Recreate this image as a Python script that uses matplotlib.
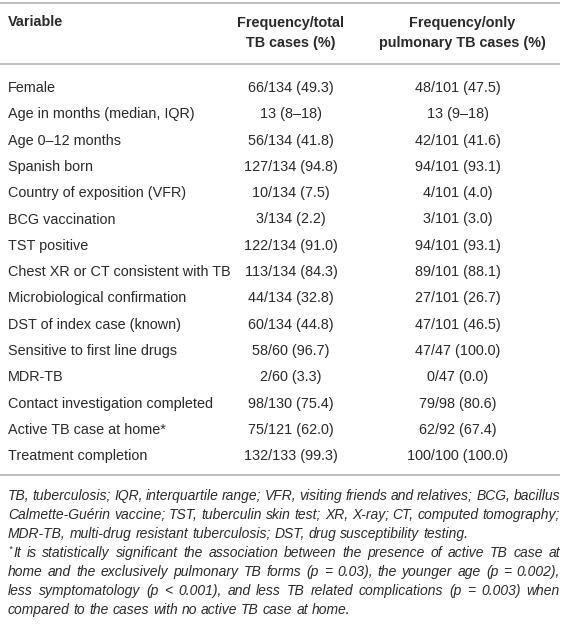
import matplotlib
matplotlib.use("Agg")
import matplotlib.pyplot as plt

plt.rcParams['font.family'] = ['Liberation Sans', 'DejaVu Sans']

# table content
variables = ["Female", "Age in months (median, IQR)", "Age 0\u201312 months", "Spanish born",
             "Country of exposition (VFR)", "BCG vaccination", "TST positive",
             "Chest XR or CT consistent with TB", "Microbiological confirmation",
             "DST of index case (known)", "Sensitive to first line drugs", "MDR-TB",
             "Contact investigation completed", "Active TB case at home*", "Treatment completion"]
freq_total = ["66/134 (49.3)", "13 (8\u201318)", "56/134 (41.8)", "127/134 (94.8)", "10/134 (7.5)",
              "3/134 (2.2)", "122/134 (91.0)", "113/134 (84.3)", "44/134 (32.8)", "60/134 (44.8)",
              "58/60 (96.7)", "2/60 (3.3)", "98/130 (75.4)", "75/121 (62.0)", "132/133 (99.3)"]
freq_pulm = ["48/101 (47.5)", "13 (9\u201318)", "42/101 (41.6)", "94/101 (93.1)", "4/101 (4.0)",
             "3/101 (3.0)", "94/101 (93.1)", "89/101 (88.1)", "27/101 (26.7)", "47/101 (46.5)",
             "47/47 (100.0)", "0/47 (0.0)", "79/98 (80.6)", "62/92 (67.4)", "100/100 (100.0)"]
headers = ["Variable", "Frequency/total\nTB cases (%)", "Frequency/only\npulmonary TB cases (%)"]

footnote1 = ["TB, tuberculosis; IQR, interquartile range; VFR, visiting friends and relatives; BCG, bacillus",
             "Calmette-Gu\u00e9rin vaccine; TST, tuberculin skin test; XR, X-ray; CT, computed tomography;",
             "MDR-TB, multi-drug resistant tuberculosis; DST, drug susceptibility testing."]
footnote2 = ["It is statistically significant the association between the presence of active TB case at",
             "home and the exclusively pulmonary TB forms (p = 0.03), the younger age (p = 0.002),",
             "less symptomatology (p < 0.001), and less TB related complications (p = 0.003) when",
             "compared to the cases with no active TB case at home."]

W, H = 568, 626
TXT = "#2a2a2a"
LINE = "#b4b4b4"

fig = plt.figure(figsize=(W / 100, H / 100), dpi=100)
ax = fig.add_axes([0, 0, 1, 1])
ax.set_xlim(0, W)
ax.set_ylim(H, 0)
ax.axis("off")

x_var, x_c2, x_c3 = 8, 291, 458
fs = 10.4

# rules
for y in [3, 64, 475]:
    ax.plot([0, 560], [y, y], color=LINE, lw=1.2, solid_capstyle="butt")

# header
ax.text(x_var, 22, headers[0], fontsize=fs, fontweight="bold", color=TXT, va="center")
ax.text(x_c2, 33, headers[1], fontsize=fs, fontweight="bold", color=TXT, va="center",
        ha="center", linespacing=1.5)
ax.text(x_c3 + 4, 33, headers[2], fontsize=fs, fontweight="bold", color=TXT, va="center",
        ha="center", linespacing=1.5)

# rows
y0, dy = 88, 26.3
for i, (v, a, b) in enumerate(zip(variables, freq_total, freq_pulm)):
    y = y0 + i * dy
    ax.text(x_var, y, v, fontsize=fs, color=TXT, va="center")
    ax.text(x_c2, y, a, fontsize=fs, color=TXT, va="center", ha="center")
    ax.text(x_c3, y, b, fontsize=fs, color=TXT, va="center", ha="center")

# footnotes, justified
renderer = fig.canvas.get_renderer()
fs_note = 10.0


def text_width(s):
    t = ax.text(0, 0, s, fontsize=fs_note, style="italic")
    w = t.get_window_extent(renderer).width
    t.remove()
    return w


space = text_width("a a") - 2 * text_width("a")


def justify(line, y, x_left, x_right, last):
    words = line.split(" ")
    arts = [ax.text(0, y, w, fontsize=fs_note, style="italic", color=TXT, va="center") for w in words]
    widths = [t.get_window_extent(renderer).width for t in arts]
    if last:
        gap = space
    else:
        gap = (x_right - x_left - sum(widths)) / (len(words) - 1)
    x = x_left
    for t, w in zip(arts, widths):
        t.set_x(x)
        x += w + gap


y_note, dy_note = 496, 19.0
lines = [(l, i == len(footnote1) - 1, 8) for i, l in enumerate(footnote1)] + \
        [(l, i == len(footnote2) - 1, 8 if i else 13) for i, l in enumerate(footnote2)]
for k, (l, last, xl) in enumerate(lines):
    justify(l, y_note + k * dy_note, xl, 560, last)

ax.text(8.5, y_note + 3 * dy_note - 4, "*", fontsize=6.5, style="italic", color=TXT, va="center")

fig.savefig("out.png", dpi=100)
